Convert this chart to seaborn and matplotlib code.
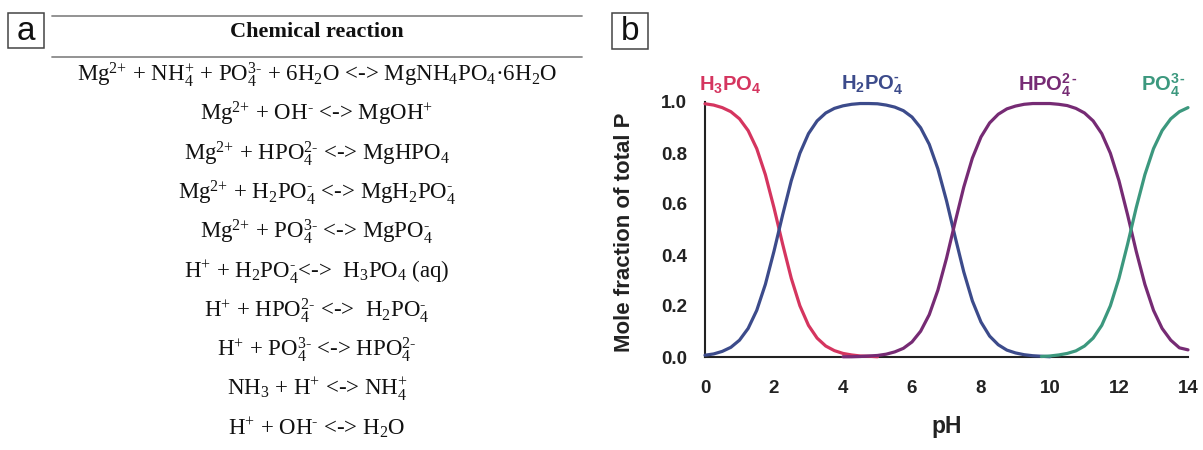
import numpy as np
import pandas as pd
import matplotlib
matplotlib.use("Agg")
import matplotlib.pyplot as plt
import seaborn as sns
from matplotlib.patches import Rectangle
from matplotlib.lines import Line2D
from matplotlib.ticker import FormatStrFormatter

sns.set_theme(style="white")
plt.rcParams["font.family"] = ["Liberation Sans", "DejaVu Sans"]
plt.rcParams["mathtext.fontset"] = "custom"
plt.rcParams["mathtext.rm"] = "Liberation Serif"
plt.rcParams["mathtext.it"] = "Liberation Serif:italic"
plt.rcParams["mathtext.bf"] = "Liberation Serif:bold"
plt.rcParams["mathtext.sf"] = "Liberation Sans:bold"

# ---------------- data ----------------
table_header = "Chemical reaction"
reactions = [
    "Mg$^{2{+}}$ + NH$_4^{+}$ + PO$_4^{3‐}$ + 6H$_2$O <-> MgNH$_4$PO$_4$·6H$_2$O",
    "Mg$^{2{+}}$ + OH$^{‐}$ <-> MgOH$^{+}$",
    "Mg$^{2{+}}$ + HPO$_4^{2‐}$ <-> MgHPO$_4$",
    "Mg$^{2{+}}$ + H$_2$PO$_4^{‐}$ <-> MgH$_2$PO$_4^{‐}$",
    "Mg$^{2{+}}$ + PO$_4^{3‐}$ <-> MgPO$_4^{‐}$",
    "H$^{+}$ + H$_2$PO$_4^{‐}$<->  H$_3$PO$_4$ (aq)",
    "H$^{+}$ + HPO$_4^{2‐}$ <->  H$_2$PO$_4^{‐}$",
    "H$^{+}$ + PO$_4^{3‐}$ <-> HPO$_4^{2‐}$",
    "NH$_3$ + H$^{+}$ <-> NH$_4^{+}$",
    "H$^{+}$ + OH$^{‐}$ <-> H$_2$O",
]

ph = [0.0, 0.25, 0.5, 0.75, 1.0, 1.25, 1.5, 1.75, 2.0, 2.25, 2.5, 2.75,
      3.0, 3.25, 3.5, 3.75, 4.0, 4.25, 4.5, 4.75, 5.0, 5.25, 5.5, 5.75,
      6.0, 6.25, 6.5, 6.75, 7.0, 7.25, 7.5, 7.75, 8.0, 8.25, 8.5, 8.75,
      9.0, 9.25, 9.5, 9.75, 10.0, 10.25, 10.5, 10.75, 11.0, 11.25, 11.5, 11.75,
      12.0, 12.25, 12.5, 12.75, 13.0, 13.25, 13.5, 13.75, 14.0]
N = None
h3po4 = [0.993, 0.988, 0.978, 0.962, 0.934, 0.888, 0.817, 0.715, 0.585, 0.443, 0.309, 0.201,
         0.124, 0.074, 0.043, 0.025, 0.014, 0.008, 0.004, 0.003, 0.001, N, N, N,
         N, N, N, N, N, N, N, N, N, N, N, N,
         N, N, N, N, N, N, N, N, N, N, N, N,
         N, N, N, N, N, N, N, N, N]
h2po4 = [0.007, 0.012, 0.022, 0.038, 0.066, 0.112, 0.183, 0.285, 0.415, 0.557, 0.691, 0.799,
         0.876, 0.926, 0.957, 0.975, 0.985, 0.991, 0.994, 0.994, 0.993, 0.988, 0.980, 0.966,
         0.941, 0.899, 0.834, 0.738, 0.613, 0.471, 0.334, 0.220, 0.137, 0.082, 0.048, 0.027,
         0.016, 0.009, 0.005, 0.003, 0.001, N, N, N, N, N, N, N,
         N, N, N, N, N, N, N, N, N]
hpo4 = [N, N, N, N, N, N, N, N, N, N, N, N,
        N, N, N, N, 0.001, 0.001, 0.002, 0.004, 0.006, 0.011, 0.020, 0.034,
        0.059, 0.101, 0.166, 0.262, 0.387, 0.529, 0.666, 0.780, 0.863, 0.918, 0.952, 0.973,
        0.984, 0.991, 0.994, 0.994, 0.994, 0.991, 0.986, 0.975, 0.957, 0.926, 0.876, 0.799,
        0.691, 0.557, 0.414, 0.285, 0.183, 0.112, 0.066, 0.036, 0.028]
po4 = [N, N, N, N, N, N, N, N, N, N, N, N,
       N, N, N, N, N, N, N, N, N, N, N, N,
       N, N, N, N, N, N, N, N, N, N, N, N,
       N, N, N, 0.002, 0.004, 0.008, 0.014, 0.024, 0.043, 0.074, 0.124, 0.201,
       0.309, 0.443, 0.586, 0.715, 0.817, 0.888, 0.934, 0.962, 0.978]

species = ["H3PO4", "H2PO4-", "HPO4 2-", "PO4 3-"]
species_labels = [r"$\mathsf{H_3PO_4}$", r"$\mathsf{H_2PO_4^{‐}}$",
                  r"$\mathsf{HPO_4^{2\,‐}}$", r"$\mathsf{PO_4^{3\,‐}}$"]
label_ph = [0.72, 4.84, 9.94, 13.3]
colors = ["#d5355f", "#3c4b8b", "#762b74", "#3c987e"]
x_ticks = [0, 2, 4, 6, 8, 10, 12, 14]
y_ticks = [0.0, 0.2, 0.4, 0.6, 0.8, 1.0]

frames = []
for name, vals in zip(species, [h3po4, h2po4, hpo4, po4]):
    frames.append(pd.DataFrame({"pH": ph, "fraction": vals, "species": name}))
df = pd.concat(frames, ignore_index=True).dropna()

# ---------------- figure ----------------
W, H = 1203, 450
fig = plt.figure(figsize=(W / 100, H / 100), dpi=100)
fig.patch.set_facecolor("white")


def fx(px):
    return px / W


def fy(py):
    return 1 - py / H


# panel labels
for (x0, y0, w, h, letter) in [(8, 13, 36, 35, "a"), (612, 13, 36, 36, "b")]:
    fig.add_artist(Rectangle((fx(x0), fy(y0 + h)), w / W, h / H, transform=fig.transFigure,
                             fill=False, ec="#444444", lw=1.1))
    fig.text(fx(x0 + w / 2), fy(y0 + h / 2 + 1), letter, ha="center", va="center",
             fontsize=24, family=["Liberation Sans", "DejaVu Sans"], color="#111111")

# table in panel a
for yy in [16, 57]:
    fig.add_artist(Line2D([fx(52), fx(582)], [fy(yy), fy(yy)], transform=fig.transFigure,
                          color="#8a8a8a", lw=1.3))
fig.text(fx(317), fy(32), table_header, ha="center", va="center", fontsize=16,
         fontweight="bold", family=["Liberation Serif", "DejaVu Serif"], color="#111111")
for i, r in enumerate(reactions):
    fig.text(fx(317), fy(81 + 39.3 * i), r, ha="center", va="baseline", fontsize=16.5,
             family=["Liberation Serif", "DejaVu Serif"], color="#111111")

# panel b
ax = fig.add_axes([fx(705), fy(357), (1188 - 705) / W, (357 - 102) / H])
sns.lineplot(data=df, x="pH", y="fraction", hue="species", hue_order=species,
             palette=colors, linewidth=2.3, legend=False, ax=ax, estimator=None, sort=True)
for ln in ax.lines:
    ln.set_clip_on(False)
    ln.set_zorder(3)
    ln.set_solid_capstyle("round")

ax.set_xlim(0, 14)
ax.set_ylim(0, 1)
ax.set_xticks(x_ticks)
ax.set_yticks(y_ticks)
ax.yaxis.set_major_formatter(FormatStrFormatter("%.1f"))
sns.despine(ax=ax)
for s in ["left", "bottom"]:
    ax.spines[s].set_linewidth(1.5)
    ax.spines[s].set_color("#222222")
ax.tick_params(axis="both", direction="out", length=3.8, width=1.3, color="#222222",
               labelsize=13.5, labelcolor="#222222")
ax.tick_params(axis="x", pad=13)
ax.tick_params(axis="y", pad=9)
for lbl in ax.get_xticklabels() + ax.get_yticklabels():
    lbl.set_fontweight("bold")

ax.set_xlabel("pH", fontsize=16.5, fontweight="bold", color="#222222")
ax.set_ylabel("Mole fraction of total P", fontsize=16, fontweight="bold", color="#222222")
ax.xaxis.label.set_va("center")
ax.yaxis.label.set_va("center")
ax.xaxis.set_label_coords(0.5, (357 - 427) / 255)
ax.yaxis.set_label_coords((625 - 705) / 483, 0.49)

for lab, xp, c in zip(species_labels, label_ph, colors):
    ax.text(xp, (357 - 85) / 255, lab, color=c, ha="center", va="center", fontsize=14.5,
            clip_on=False)

fig.savefig("out.png", dpi=100, facecolor="white")
